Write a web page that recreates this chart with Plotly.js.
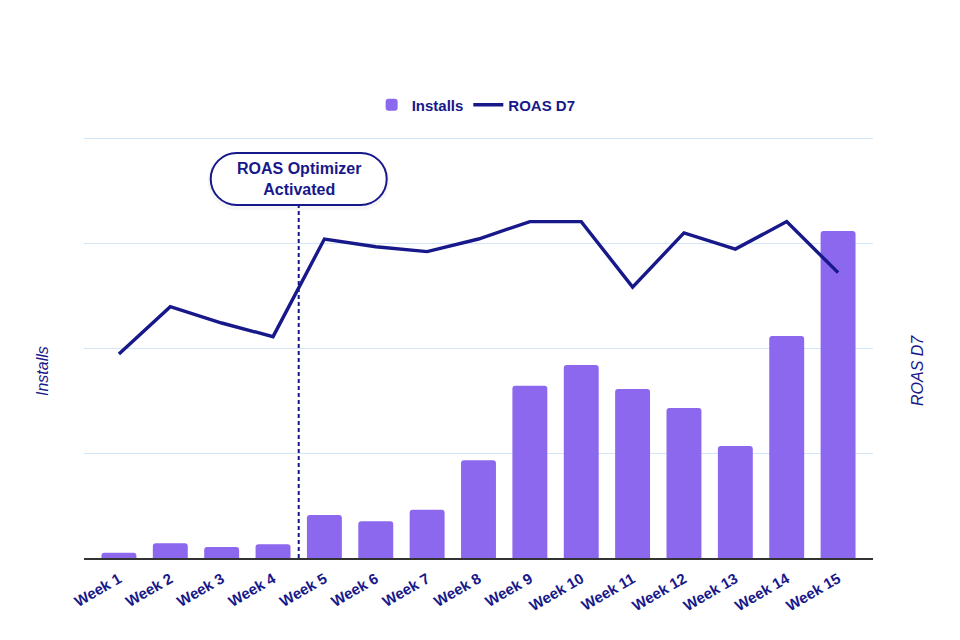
<!DOCTYPE html>
<html>
<head>
<meta charset="utf-8">
<script src="https://cdn.plot.ly/plotly-3.0.1.min.js"></script>
<style>html,body{margin:0;padding:0;background:#fff;}#chart{width:960px;height:640px;}</style>
</head>
<body>
<div id="chart"></div>
<script>
const weeks = ["Week 1","Week 2","Week 3","Week 4","Week 5","Week 6","Week 7","Week 8","Week 9","Week 10","Week 11","Week 12","Week 13","Week 14","Week 15"];
const installs = [250, 700, 520, 650, 2050, 1750, 2300, 4650, 8200, 9190, 8050, 7140, 5330, 10570, 15570];
const roasD7 = [97.1, 119.7, 111.9, 105.4, 151.9, 148.2, 145.9, 151.9, 160.2, 160.2, 129.0, 154.8, 147.1, 160.2, 135.9];
const eventLabel = "ROAS Optimizer<br>Activated";
const eventPos = 3.5; // between Week 4 and Week 5

const navy = "#17188a";
const purple = "#8b68ee";
const FONT = "Liberation Sans, Arial, Helvetica, sans-serif";
const idx = weeks.map((w, i) => i);

const traces = [
  {
    type: "bar", name: "Installs", x: idx, y: installs,
    marker: {color: purple, cornerradius: 3},
    yaxis: "y"
  },
  {
    type: "scatter", mode: "lines", name: "ROAS D7", x: idx, y: roasD7,
    line: {color: navy, width: 3.4},
    yaxis: "y2"
  }
];

const w = 62, r = 26, k = 14.36;
function pillPath(pad) {
  const W = w, R = r + pad, K = k + pad * 0.55;
  return `M ${-W},${-R} L ${W},${-R} C ${W+K},${-R} ${W+R},${-K} ${W+R},0 C ${W+R},${K} ${W+K},${R} ${W},${R} L ${-W},${R} C ${-W-K},${R} ${-W-R},${K} ${-W-R},0 C ${-W-R},${-K} ${-W-K},${-R} ${-W},${-R} Z`;
}

const plotH = 421;
const boxY = (558 - 179) / 421;

const layout = {
  width: 960, height: 640,
  margin: {l: 84, r: 87, t: 137, b: 82},
  paper_bgcolor: "#fff", plot_bgcolor: "#fff",
  font: {family: FONT, color: navy, size: 15},
  bargap: 0.32,
  showlegend: true,
  legend: {
    orientation: "h", x: 0.497, xanchor: "center", y: (558 - 105) / plotH, yanchor: "middle",
    font: {family: FONT, size: 15, color: navy, weight: "bold"},
    traceorder: "normal"
  },
  xaxis: {
    type: "linear", range: [-0.68, 14.68],
    tickmode: "array", tickvals: idx, ticktext: weeks,
    tickangle: -30, ticks: "", showgrid: false, zeroline: false,
    showline: true, linecolor: "#333", linewidth: 1.5,
    ticklabelstandoff: 5,
    tickfont: {family: FONT, size: 15, color: navy, weight: "bold"}
  },
  yaxis: {
    range: [0, 20050], dtick: 5000, showticklabels: false, ticks: "",
    showgrid: true, gridcolor: "#d3e5f9", gridwidth: 1, zeroline: false,
    showline: false
  },
  yaxis2: {
    overlaying: "y", side: "right", range: [0, 200 * 421 / 420], showticklabels: false,
    showgrid: false, zeroline: false, ticks: ""
  },
  shapes: [
    {type: "line", xref: "x", yref: "paper", x0: eventPos, x1: eventPos, y0: 0, y1: boxY - 26 / plotH,
     line: {color: navy, width: 2, dash: "4px,3px"}, layer: "above"},
    {type: "path", xref: "x", yref: "paper", xsizemode: "pixel", ysizemode: "pixel",
     xanchor: eventPos, yanchor: boxY - 2 / plotH, path: pillPath(3),
     fillcolor: "rgba(0,0,0,0.035)", line: {width: 0}, layer: "above"},
    {type: "path", xref: "x", yref: "paper", xsizemode: "pixel", ysizemode: "pixel",
     xanchor: eventPos, yanchor: boxY, path: pillPath(0),
     fillcolor: "#fff", line: {color: navy, width: 2}, layer: "above"}
  ],
  annotations: [
    {x: eventPos, xref: "x", y: boxY, yref: "paper", text: eventLabel, showarrow: false,
     font: {family: FONT, size: 16, color: navy, weight: "bold"}, xanchor: "center", yanchor: "middle"},
    {x: -42 / 789, xref: "paper", y: (558 - 371) / plotH, yref: "paper", text: "Installs", showarrow: false,
     textangle: -90, font: {family: FONT, size: 16, color: navy, style: "italic"}, xanchor: "center", yanchor: "middle"},
    {x: 1 + 44 / 789, xref: "paper", y: (558 - 371) / plotH, yref: "paper", text: "ROAS D7", showarrow: false,
     textangle: -90, font: {family: FONT, size: 16, color: navy, style: "italic"}, xanchor: "center", yanchor: "middle"}
  ]
};

Plotly.newPlot("chart", traces, layout, {displayModeBar: false, staticPlot: true});
</script>
</body>
</html>
